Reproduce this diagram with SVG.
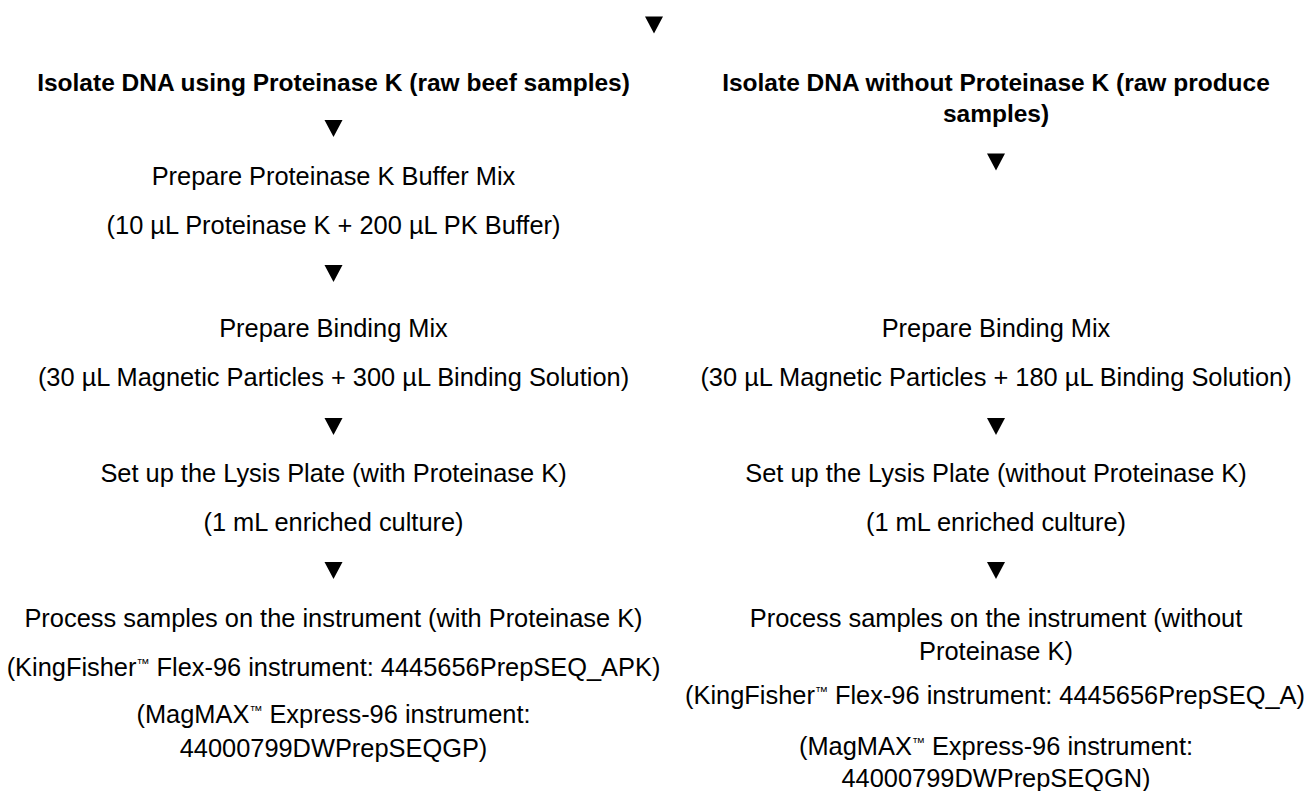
<svg xmlns="http://www.w3.org/2000/svg" width="1304" height="791" viewBox="0 0 1304 791">
<style>
  .t { font-family: "Liberation Sans", Arial, Helvetica, sans-serif; font-size: 25.4px; fill: #000; text-anchor: middle; }
  .b { font-weight: bold; font-size: 24.5px; }
  .tm { font-size: 13px; }
  .arrow { fill: #000; }
</style>
<rect width="1304" height="791" fill="#fff"/>
<g id="connectors">
  <polygon class="arrow" points="645,16.5 663,16.5 654,33.5"/>
  <polygon class="arrow" points="324.5,120 342.5,120 333.5,137"/>
  <polygon class="arrow" points="324.5,265 342.5,265 333.5,282"/>
  <polygon class="arrow" points="324.5,418 342.5,418 333.5,435"/>
  <polygon class="arrow" points="324.5,562 342.5,562 333.5,579"/>
  <polygon class="arrow" points="987,153.5 1005,153.5 996,170.5"/>
  <polygon class="arrow" points="987,418 1005,418 996,435"/>
  <polygon class="arrow" points="987,562 1005,562 996,579"/>
</g>
<g id="left-isolate">
  <text class="t b" x="333.5" y="90.5">Isolate DNA using Proteinase K (raw beef samples)</text>
</g>
<g id="left-pk-buffer">
  <text class="t" x="333.5" y="185">Prepare Proteinase K Buffer Mix</text>
  <text class="t" x="333.5" y="233.5">(10 µL Proteinase K + 200 µL PK Buffer)</text>
</g>
<g id="left-binding">
  <text class="t" x="333.5" y="337">Prepare Binding Mix</text>
  <text class="t" x="333.5" y="385.5">(30 µL Magnetic Particles + 300 µL Binding Solution)</text>
</g>
<g id="left-lysis">
  <text class="t" x="333.5" y="482">Set up the Lysis Plate (with Proteinase K)</text>
  <text class="t" x="333.5" y="531">(1 mL enriched culture)</text>
</g>
<g id="left-process">
  <text class="t" x="333.5" y="626.5">Process samples on the instrument (with Proteinase K)</text>
  <text class="t" x="333.5" y="675.5">(KingFisher<tspan class="tm" dy="-8">™</tspan><tspan dy="8"> Flex-96 instrument: 4445656PrepSEQ_APK)</tspan></text>
  <text class="t" x="333.5" y="723">(MagMAX<tspan class="tm" dy="-8">™</tspan><tspan dy="8"> Express-96 instrument:</tspan></text>
  <text class="t" x="333.5" y="756.5">44000799DWPrepSEQGP)</text>
</g>
<g id="right-isolate">
  <text class="t b" x="996" y="90.5">Isolate DNA without Proteinase K (raw produce</text>
  <text class="t b" x="996" y="122">samples)</text>
</g>
<g id="right-binding">
  <text class="t" x="996" y="337">Prepare Binding Mix</text>
  <text class="t" x="996" y="385.5">(30 µL Magnetic Particles + 180 µL Binding Solution)</text>
</g>
<g id="right-lysis">
  <text class="t" x="996" y="482">Set up the Lysis Plate (without Proteinase K)</text>
  <text class="t" x="996" y="531">(1 mL enriched culture)</text>
</g>
<g id="right-process">
  <text class="t" x="996" y="626.5">Process samples on the instrument (without</text>
  <text class="t" x="996" y="659.5">Proteinase K)</text>
  <text class="t" x="995" y="703.5">(KingFisher<tspan class="tm" dy="-8">™</tspan><tspan dy="8"> Flex-96 instrument: 4445656PrepSEQ_A)</tspan></text>
  <text class="t" x="996" y="754.5">(MagMAX<tspan class="tm" dy="-8">™</tspan><tspan dy="8"> Express-96 instrument:</tspan></text>
  <text class="t" x="996" y="787">44000799DWPrepSEQGN)</text>
</g>
</svg>
